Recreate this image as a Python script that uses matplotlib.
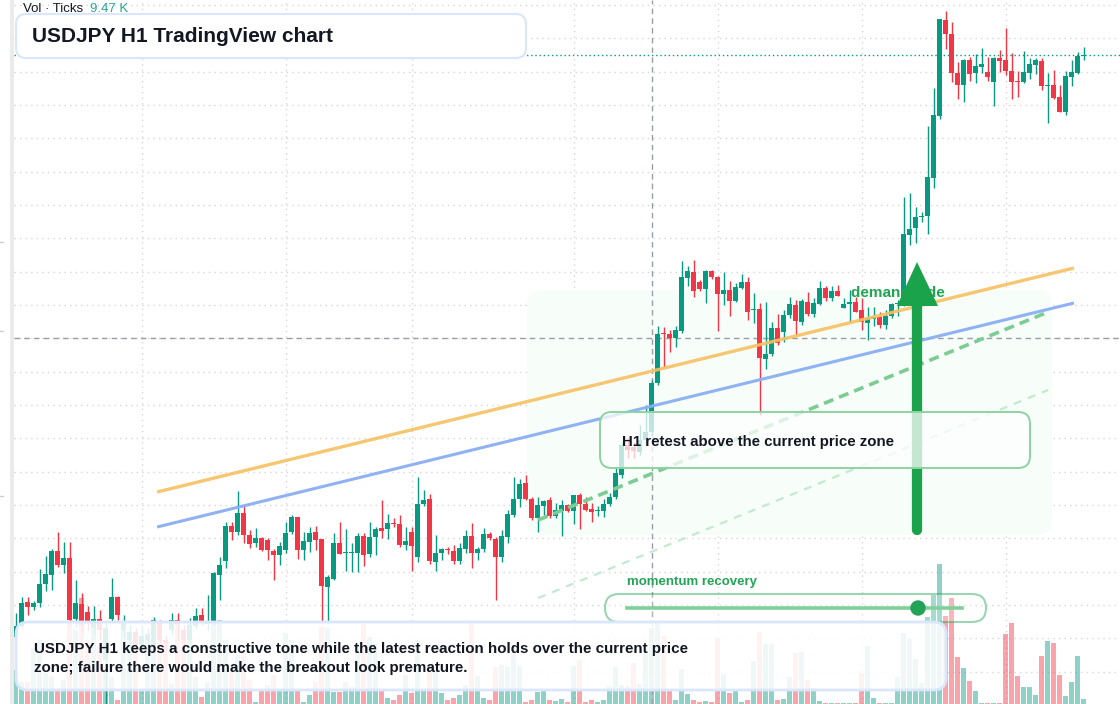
import matplotlib.pyplot as plt
import matplotlib.transforms as mtransforms
import numpy as np
from matplotlib.patches import FancyBboxPatch, Rectangle, Circle

plt.rcParams['font.family'] = ['Liberation Sans', 'DejaVu Sans']

# USDJPY hourly candles, oldest first
opens = [
    151.63, 151.74, 151.98, 151.93, 151.97, 152.16, 152.25, 152.49, 152.35, 152.42,
    151.81, 151.96, 151.88, 151.72, 151.81, 151.40, 151.81, 152.03, 151.70, 151.60,
    151.68, 151.55, 151.60, 151.55, 151.78, 151.60, 151.70, 151.80, 151.70, 151.60,
    151.74, 151.85, 151.76, 151.78, 152.25, 152.39, 152.74, 152.68, 152.87, 152.65,
    152.57, 152.62, 152.60, 152.49, 152.45, 152.50, 152.68, 152.83, 152.50, 152.58,
    152.68, 152.61, 152.13, 152.21, 152.57, 152.47, 152.47, 152.47, 152.64, 152.46,
    152.63, 152.72, 152.71, 152.77, 152.76, 152.55, 152.68, 152.43, 152.96, 153.01,
    152.38, 152.47, 152.51, 152.49, 152.39, 152.51, 152.64, 152.47, 152.51, 152.66,
    152.61, 152.43, 152.63, 152.85, 153.01, 153.17, 153.01, 152.82, 152.94, 153.00,
    152.84, 152.89, 152.95, 152.89, 153.05, 152.96, 152.91, 152.89, 152.89, 152.96,
    153.03, 153.25, 153.55, 153.53, 153.48, 153.60, 153.68, 154.17, 154.67, 154.66,
    154.62, 154.69, 155.22, 155.28, 155.18, 155.11, 155.29, 155.23, 155.06, 155.10,
    154.99, 155.12, 155.18, 154.90, 154.91, 154.41, 154.46, 154.72, 154.68, 154.85,
    154.95, 154.78, 154.98, 154.86, 154.96, 155.12, 155.02, 155.09, 154.92, 154.96,
    154.98, 154.90, 154.77, 154.81, 154.83, 154.75, 154.84, 154.96, 154.95, 155.65,
    155.72, 155.83, 155.84, 156.22, 156.84, 157.80, 157.66, 157.27, 157.15, 157.40,
    157.27, 157.33, 157.28, 157.18, 157.42, 157.40, 157.29, 157.19, 157.18, 157.27,
    157.35, 157.39, 157.14, 157.15, 157.03, 156.88, 157.23, 157.27, 157.44,
]
highs = [
    151.87, 152.03, 152.03, 151.99, 152.31, 152.44, 152.51, 152.68, 152.58, 152.58,
    152.20, 152.07, 151.94, 151.94, 151.90, 151.78, 152.22, 152.04, 151.85, 151.75,
    151.72, 151.74, 151.72, 151.83, 151.80, 151.64, 151.87, 151.87, 151.75, 151.82,
    151.92, 151.92, 152.05, 152.28, 152.43, 152.78, 152.78, 153.09, 152.95, 152.70,
    152.72, 152.63, 152.62, 152.51, 152.58, 152.78, 152.85, 152.83, 152.68, 152.73,
    152.74, 152.61, 152.25, 152.67, 152.78, 152.71, 152.57, 152.67, 152.67, 152.78,
    152.73, 153.00, 152.86, 152.82, 152.85, 152.73, 152.73, 153.23, 153.10, 153.06,
    152.65, 152.52, 152.53, 152.55, 152.57, 152.70, 152.77, 152.53, 152.72, 152.68,
    152.63, 152.70, 152.90, 153.23, 153.21, 153.25, 153.03, 153.03, 153.00, 153.03,
    152.97, 153.00, 152.96, 153.05, 153.07, 153.03, 152.97, 152.94, 153.01, 153.07,
    153.33, 153.58, 153.62, 153.58, 153.75, 153.95, 154.20, 154.74, 154.73, 154.70,
    154.74, 155.39, 155.34, 155.40, 155.20, 155.30, 155.30, 155.24, 155.28, 155.19,
    155.17, 155.26, 155.23, 155.07, 154.97, 154.98, 154.78, 154.86, 154.90, 155.03,
    155.00, 155.01, 155.08, 155.02, 155.19, 155.14, 155.14, 155.15, 155.02, 155.10,
    155.03, 155.02, 154.93, 154.93, 154.88, 154.90, 154.97, 155.00, 156.03, 156.07,
    155.93, 155.88, 156.74, 157.12, 157.81, 157.89, 157.78, 157.38, 157.41, 157.43,
    157.46, 157.52, 157.43, 157.43, 157.50, 157.72, 157.47, 157.29, 157.49, 157.42,
    157.42, 157.42, 157.27, 157.30, 157.15, 157.29, 157.40, 157.48, 157.53,
]
lows = [
    151.60, 151.72, 151.85, 151.90, 151.93, 152.09, 152.10, 152.33, 152.27, 151.75,
    151.73, 151.68, 151.70, 151.65, 151.60, 150.94, 151.78, 151.80, 151.63, 151.52,
    151.48, 151.50, 151.54, 151.52, 151.55, 151.50, 151.65, 151.60, 151.52, 151.55,
    151.72, 151.75, 151.70, 151.75, 152.00, 152.32, 152.60, 152.65, 152.57, 152.52,
    152.53, 152.49, 152.40, 152.20, 152.35, 152.47, 152.66, 152.41, 152.40, 152.48,
    152.50, 151.77, 151.77, 152.20, 152.46, 152.29, 152.28, 152.28, 152.34, 152.43,
    152.45, 152.62, 152.61, 152.73, 152.53, 152.50, 152.29, 152.38, 152.94, 152.36,
    152.29, 152.40, 152.46, 152.36, 152.36, 152.47, 152.32, 152.40, 152.48, 152.60,
    152.00, 152.38, 152.57, 152.83, 152.93, 153.00, 152.80, 152.68, 152.85, 152.82,
    152.82, 152.64, 152.88, 152.76, 152.71, 152.89, 152.78, 152.84, 152.83, 152.94,
    153.01, 153.22, 153.42, 153.42, 153.45, 153.55, 153.64, 154.15, 154.33, 154.48,
    154.53, 154.67, 155.14, 155.03, 155.09, 154.97, 155.21, 154.69, 154.95, 154.84,
    154.98, 155.11, 154.80, 154.77, 153.85, 154.31, 154.44, 154.55, 154.58, 154.82,
    154.65, 154.75, 154.84, 154.83, 154.95, 154.99, 154.99, 155.04, 154.92, 154.78,
    154.88, 154.70, 154.60, 154.74, 154.72, 154.71, 154.82, 154.84, 154.94, 155.55,
    155.57, 155.78, 155.66, 156.12, 156.81, 157.51, 157.18, 157.01, 156.98, 157.19,
    157.17, 157.27, 157.19, 156.94, 157.28, 157.25, 157.01, 157.03, 157.17, 157.21,
    157.26, 157.10, 156.77, 157.01, 156.88, 156.85, 157.14, 157.26, 157.40,
]
closes = [
    151.74, 151.97, 151.93, 151.97, 152.16, 152.26, 152.49, 152.35, 152.42, 151.80,
    151.97, 151.75, 151.78, 151.81, 151.70, 151.72, 152.03, 151.85, 151.78, 151.68,
    151.55, 151.64, 151.66, 151.80, 151.60, 151.57, 151.80, 151.76, 151.60, 151.75,
    151.84, 151.78, 151.79, 152.27, 152.35, 152.74, 152.68, 152.87, 152.65, 152.56,
    152.62, 152.50, 152.50, 152.45, 152.54, 152.67, 152.83, 152.50, 152.59, 152.67,
    152.60, 152.14, 152.23, 152.57, 152.46, 152.48, 152.48, 152.64, 152.45, 152.63,
    152.71, 152.69, 152.77, 152.76, 152.55, 152.59, 152.54, 152.96, 153.00, 152.39,
    152.47, 152.51, 152.50, 152.39, 152.52, 152.64, 152.47, 152.51, 152.66, 152.62,
    152.43, 152.64, 152.86, 153.01, 153.16, 153.01, 152.82, 152.95, 152.99, 152.84,
    152.90, 152.95, 152.89, 153.05, 152.96, 152.90, 152.88, 152.90, 152.96, 153.03,
    153.27, 153.55, 153.50, 153.49, 153.60, 153.68, 154.17, 154.66, 154.66, 154.62,
    154.70, 155.23, 155.29, 155.09, 155.11, 155.29, 155.23, 155.06, 155.10, 154.99,
    155.13, 155.18, 154.88, 154.91, 154.42, 154.46, 154.72, 154.57, 154.85, 154.96,
    154.79, 154.99, 154.86, 154.97, 155.12, 155.02, 155.09, 155.04, 154.96, 154.98,
    154.88, 154.78, 154.82, 154.83, 154.75, 154.84, 154.96, 154.97, 155.66, 155.71,
    155.83, 155.84, 156.23, 156.85, 157.81, 157.66, 157.27, 157.15, 157.40, 157.26,
    157.34, 157.36, 157.23, 157.42, 157.39, 157.29, 157.18, 157.18, 157.28, 157.36,
    157.40, 157.14, 157.15, 157.02, 156.88, 157.24, 157.28, 157.44, 157.45,
]
# tick volume, thousands
volumes = [
    3.4, 2.2, 2.2, 5.6, 6.4, 3.1, 2.8, 1.3, 2.4, 8.1,
    7.4, 10.6, 6.4, 8.5, 5.7, 3.4, 2.7, 0.4, 7.4, 7.2,
    7.1, 1.4, 6.7, 8.2, 8.1, 6.4, 2.0, 8.1, 7.4, 8.0,
    2.7, 0.7, 2.2, 8.3, 8.4, 6.4, 3.4, 4.9, 5.4, 2.4,
    0.2, 1.4, 1.9, 2.9, 1.4, 7.1, 6.4, 1.3, 0.2, 0.9,
    2.2, 7.7, 7.6, 1.2, 1.2, 2.2, 1.7, 6.1, 8.0, 6.7,
    6.1, 1.4, 0.6, 0.4, 0.9, 2.9, 1.1, 6.4, 1.4, 3.4,
    3.7, 1.1, 0.4, 0.6, 0.9, 1.9, 8.1, 2.8, 0.6, 0.4,
    3.7, 3.9, 3.7, 5.1, 3.8, 0.2, 0.4, 1.2, 1.4, 0.4,
    0.3, 0.5, 0.2, 3.8, 4.4, 0.2, 0.4, 0.2, 0.4, 1.8,
    3.7, 1.9, 1.8, 4.1, 2.0, 5.5, 7.6, 8.2, 6.8, 1.4,
    0.4, 3.5, 1.0, 0.4, 0.2, 0.3, 0.2, 6.6, 3.0, 1.1,
    1.3, 0.2, 0.4, 4.3, 7.2, 6.0, 6.0, 0.4, 0.5, 2.7,
    5.1, 5.2, 2.4, 1.6, 0.3, 0.1, 0.1, 0.1, 0.1, 0.1,
    0.1, 3.1, 5.8, 0.6, 0.1, 0.1, 0.1, 2.7, 7.1, 6.5,
    4.5, 2.1, 8.7, 10.9, 14.0, 8.8, 10.6, 4.7, 3.6, 2.3,
    1.3, 0.1, 0.1, 0.1, 0.1, 7.0, 8.1, 2.8, 1.7, 1.7,
    0.9, 4.8, 6.3, 6.1, 2.9, 0.8, 2.2, 4.8, 0.5,
]

day_breaks = [21, 45, 66, 93, 117, 141, 165]
last_price = 157.45
cross_bar, cross_price = 106, 154.62

# drawn trend lines: (bar index, price) end points
orange_x, orange_y = [23.6, 176.4], [153.08, 155.32]
blue_x, blue_y = [23.6, 176.4], [152.73, 154.97]
support_x, support_y = [87.1, 172.1], [152.80, 154.88]
lower_x, lower_y = [87.1, 172.1], [152.02, 154.10]

UP, DOWN = '#089981', '#f23645'
GREEN = '#1aa34a'
DARK = '#131722'

o, h, l, c = map(np.array, (opens, highs, lows, closes))
idx = np.arange(len(o))
cols = np.where(c >= o, UP, DOWN)

fig = plt.figure(figsize=(11.2, 7.04), dpi=100)
rect = [14 / 1120, 0, 1106 / 1120, 1]
vax = fig.add_axes(rect)
ax = fig.add_axes(rect)
ax.patch.set_alpha(0)
for a in (vax, ax):
    a.set_xlim(-0.25, 184.08)
    a.set_xticks([])
    a.set_yticks([])
    for s in a.spines.values():
        s.set_visible(False)
vax.set_ylim(0, 70.4)
ax.set_ylim(150.96, 158.0)

# overlay in pixel units for the UI boxes
ov = fig.add_axes([0, 0, 1, 1])
ov.set_xlim(0, 1120)
ov.set_ylim(704, 0)
ov.axis('off')
ov.patch.set_alpha(0)

# grid (on the bottom axes so it sits under volume)
gtrans = mtransforms.blended_transform_factory(vax.transAxes, ax.transData)
for p in np.arange(157.95, 150.9, -1 / 3):
    vax.plot([0, 1], [p, p], transform=gtrans, color='#d6d6d6', lw=1, ls=(0, (1, 3)), zorder=0)
for d in day_breaks:
    vax.axvline(d, color='#d6d6d6', lw=1, ls=(0, (1, 3)), zorder=0)

vax.bar(idx, volumes, width=0.78, color=cols, alpha=0.45, linewidth=0, zorder=1)

# demand zone
ax.add_patch(FancyBboxPatch((527, 290), 525, 245, boxstyle='round,pad=0,rounding_size=14',
                            transform=ov.transData, fc='#f7fdf8', ec='none', zorder=1))

ax.axhline(last_price, color=UP, lw=1, ls=(0, (1, 2)), zorder=2)
ax.axhline(cross_price, color='#9a9ea8', lw=1, ls=(0, (4, 3)), zorder=2)
ax.axvline(cross_bar, color='#9a9ea8', lw=1, ls=(0, (4, 3)), zorder=2)

ax.vlines(idx, l, h, colors=cols, lw=1.0, zorder=3)
body = np.maximum(np.abs(c - o), 0.012)
ax.bar(idx, body, bottom=np.minimum(o, c), width=0.72, color=cols, linewidth=0, zorder=4)

ax.plot(orange_x, orange_y, color='#f6c062', lw=2.4, alpha=0.9, zorder=5, solid_capstyle='butt')
ax.plot(blue_x, blue_y, color='#8aaef2', lw=2.2, alpha=0.95, zorder=5, solid_capstyle='butt')
ax.plot(support_x, support_y, color='#7ccd94', lw=2.6, ls=(0, (2.8, 1.7)), zorder=5)
ax.plot(lower_x, lower_y, color='#c3ead0', lw=1.6, ls=(0, (3.6, 3.2)), zorder=5)

# annotations
ov.text(851, 293, 'demand side', color='#22a355', fontsize=11, fontweight='bold', va='center', zorder=1)
ov.plot([917, 917], [530, 300], color=GREEN, lw=7.4, solid_capstyle='round', zorder=2)
ov.fill([897, 917, 938], [306, 262, 306], color=GREEN, lw=0, zorder=2)

ov.add_patch(FancyBboxPatch((600, 412), 430, 56, boxstyle='round,pad=0,rounding_size=12',
                            fc=(1, 1, 1, 0.75), ec='#8dd3a2', lw=1.4, zorder=3))
ov.text(622, 442, 'H1 retest above the current price zone', color=DARK, fontsize=10.85,
        fontweight='bold', va='center', zorder=4)

ov.text(627, 582, 'momentum recovery', color='#22a355', fontsize=9.5, fontweight='bold', va='center', zorder=4)
ov.add_patch(FancyBboxPatch((605, 594), 381, 28, boxstyle='round,pad=0,rounding_size=14',
                            fc=(1, 1, 1, 0.2), ec=(0.13, 0.64, 0.33, 0.45), lw=1.5, zorder=3))
ov.plot([627, 962], [608, 608], color='#80d09a', lw=2.6, zorder=4)
ov.add_patch(Circle((918, 608), 7, color='#22a355', zorder=5))

ov.add_patch(FancyBboxPatch((16, 622), 930, 68, boxstyle='round,pad=0,rounding_size=12',
                            fc=(1, 1, 1, 0.87), ec='#d9e6fb', lw=2, zorder=6))
ov.text(34, 649, 'USDJPY H1 keeps a constructive tone while the latest reaction holds over the current price',
        color=DARK, fontsize=10.9, fontweight='bold', va='center', zorder=7)
ov.text(34, 668, 'zone; failure there would make the breakout look premature.',
        color=DARK, fontsize=10.9, fontweight='bold', va='center', zorder=7)

ov.add_patch(FancyBboxPatch((16, 14), 510, 44, boxstyle='round,pad=0,rounding_size=10',
                            fc='white', ec='#d9e6fb', lw=1.5, zorder=6))
ov.text(32, 36, 'USDJPY H1 TradingView chart', color=DARK, fontsize=15, fontweight='bold',
        va='center', zorder=7)

ov.text(23, 9, 'Vol · Ticks', color=DARK, fontsize=9.5, va='center', zorder=7)
ov.text(90, 9, '9.47 K', color='#26a69a', fontsize=9.5, va='center', zorder=7)

ov.add_patch(Rectangle((10, 0), 4, 704, fc='#ebebeb', ec='none', zorder=6))
for ty in (242, 331, 496):
    ov.plot([0, 3], [ty, ty], color='#cfcfcf', lw=1, zorder=6)

fig.savefig('out.png', dpi=100)
